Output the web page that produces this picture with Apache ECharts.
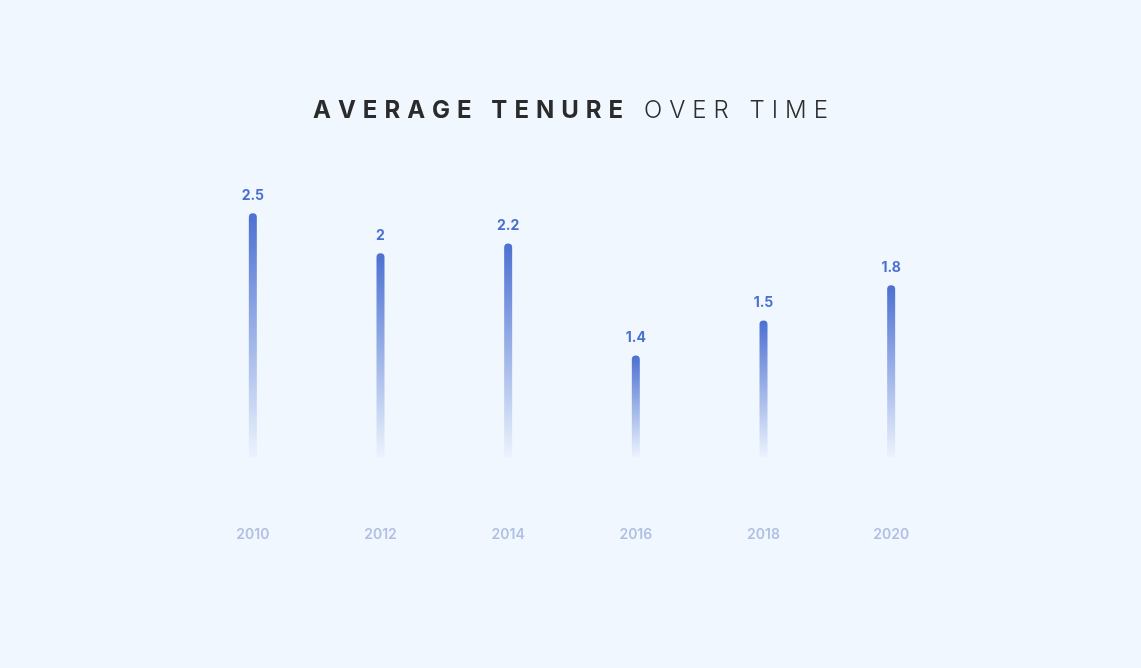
<!DOCTYPE html>
<html>
<head>
<meta charset="utf-8">
<script src="https://cdn.jsdelivr.net/npm/echarts@6/dist/echarts.min.js"></script>
<style>
  html, body { margin: 0; padding: 0; background: #f0f7fe; }
  #chart { width: 1141px; height: 668px; }
</style>
</head>
<body>
<div id="chart"></div>
<script>
// Data
const years = ['2010', '2012', '2014', '2016', '2018', '2020'];
// printed value labels
const tenureLabels = ['2.5', '2', '2.2', '1.4', '1.5', '1.8'];
// bar heights as drawn in the picture (same value scale, 2.5 = tallest bar)
const barHeights = [2.5, 2.09, 2.19, 1.04, 1.40, 1.76];
const titleBold = 'AVERAGE TENURE';
const titleLight = 'OVER TIME';

function spaced(text, style) {
  return text.split('').map(function (ch) { return '{' + style + '|' + ch + '}'; }).join('');
}
const titleText = spaced(titleBold, 'b') + spaced(' ', 'l') + spaced(titleLight, 'l');
const ls = 3.5;

const chart = echarts.init(document.getElementById('chart'));
chart.setOption({
  backgroundColor: '#f0f7fe',
  title: {
    text: titleText,
    left: 'center',
    top: 91,
    textStyle: {
      rich: {
        b: { fontFamily: 'Inter', fontSize: 24, fontWeight: 700, color: '#2b2b2b', lineHeight: 30, padding: [0, ls, 0, ls] },
        l: { fontFamily: 'Inter', fontSize: 24, fontWeight: 300, color: '#2e2e2e', lineHeight: 30, padding: [0, ls, 0, ls] }
      }
    }
  },
  grid: { left: 189, right: 186, top: 213.3, bottom: 211.3, containLabel: false },
  xAxis: {
    type: 'category',
    data: years,
    axisLine: { show: false },
    axisTick: { show: false },
    splitLine: { show: false },
    axisLabel: {
      margin: 71,
      fontFamily: 'Inter',
      fontSize: 14,
      fontWeight: 600,
      color: '#b1bfe3'
    }
  },
  yAxis: {
    type: 'value',
    min: 0,
    max: 2.5,
    show: false
  },
  series: [{
    type: 'bar',
    data: barHeights,
    barWidth: 8,
    itemStyle: {
      borderRadius: [4, 4, 0, 0],
      color: new echarts.graphic.LinearGradient(0, 0, 0, 1, [
        { offset: 0, color: 'rgba(76,112,210,1)' },
        { offset: 1, color: 'rgba(76,112,210,0.03)' }
      ])
    },
    label: {
      show: true,
      position: 'top',
      distance: 10.5,
      fontFamily: 'Inter',
      fontSize: 14,
      fontWeight: 700,
      color: '#4b6fd1',
      formatter: function (p) { return tenureLabels[p.dataIndex]; }
    },
    emphasis: { disabled: true }
  }],
  animation: false
});
</script>
</body>
</html>
